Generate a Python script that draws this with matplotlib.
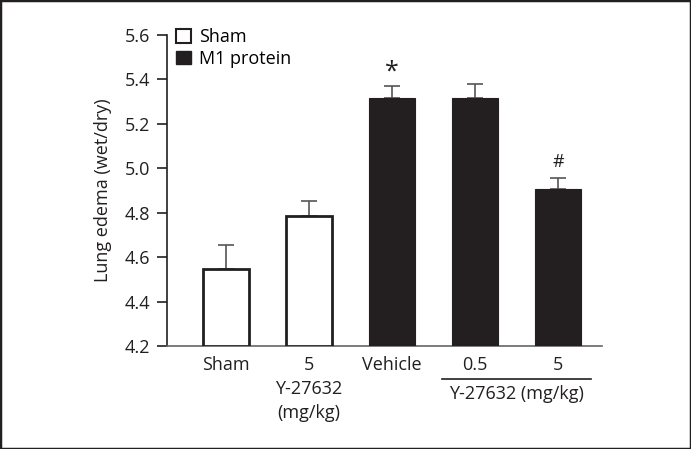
import matplotlib
matplotlib.use("Agg")
import matplotlib.pyplot as plt
from matplotlib.patches import Patch, Rectangle
import numpy as np

plt.rcParams['font.family'] = ['Open Sans', 'DejaVu Sans']

labels = ["Sham", "5\nY-27632\n(mg/kg)", "Vehicle", "0.5", "5"]
values = [4.547, 4.785, 5.316, 5.316, 4.907]
errors = [0.108, 0.070, 0.056, 0.064, 0.048]
groups = ["sham", "sham", "m1", "m1", "m1"]
marks = {2: "*", 4: "#"}

colors = {"sham": "white", "m1": "#231f20"}
fs = 13

fig = plt.figure(figsize=(6.91, 4.49), dpi=100)
ax = fig.add_axes([0.2417, 0.2294, 0.871 - 0.2417, 0.922 - 0.2294])

x = np.arange(len(values))
for i in x:
    g = groups[i]
    lw = 2.0 if g == "sham" else 0.8
    ax.bar(x[i], values[i] - 4.2, bottom=4.2, width=0.55,
           color=colors[g], edgecolor="#231f20", linewidth=lw, zorder=3)
    ax.errorbar(x[i], values[i], yerr=[[0], [errors[i]]], fmt="none",
                ecolor="#555555", elinewidth=1.2, capsize=6, capthick=1.2, zorder=2)
    if i in marks:
        star = marks[i] == "*"
        ax.text(x[i], values[i] + errors[i] + (0.005 if star else 0.035), marks[i],
                ha="center", va="bottom", fontsize=18 if star else 13, color="#231f20")

ax.set_ylim(4.2, 5.6)
ax.set_xlim(-0.71, 4.53)
ax.set_yticks([4.2, 4.4, 4.6, 4.8, 5.0, 5.2, 5.4, 5.6])
ax.set_yticklabels(["4.2", "4.4", "4.6", "4.8", "5.0", "5.2", "5.4", "5.6"])
ax.set_xticks(x)
ax.set_xticklabels(labels, linespacing=1.45)
ax.tick_params(axis="x", length=0, pad=7, labelsize=fs, colors="#231f20")
ax.tick_params(axis="y", length=7, width=1.2, pad=5, labelsize=fs, colors="#231f20")
for s in ["top", "right"]:
    ax.spines[s].set_visible(False)
ax.spines["left"].set_linewidth(1.2)
ax.spines["left"].set_color("#231f20")
ax.spines["bottom"].set_linewidth(1.2)
ax.spines["bottom"].set_color("#666666")

ax.set_ylabel("Lung edema (wet/dry)", fontsize=fs, color="#231f20", labelpad=9)

# group bracket under the last two bars
ax.plot([2.6, 4.4], [4.2 - 0.148, 4.2 - 0.148], color="#231f20", lw=1.2, clip_on=False)
ax.text(3.5, 4.2 - 0.175, "Y-27632 (mg/kg)", ha="center", va="top",
        fontsize=fs, color="#231f20")

handles = [Patch(facecolor="white", edgecolor="#231f20", linewidth=1.5, label="Sham"),
           Patch(facecolor="#231f20", edgecolor="#231f20", label="M1 protein")]
ax.legend(handles=handles, loc="upper left", bbox_to_anchor=(0.005, 1.045), frameon=False,
          handlelength=0.8, handleheight=0.8, handletextpad=0.45, labelspacing=0.2,
          fontsize=fs, borderaxespad=0)

fig.patches.append(Rectangle((0, 0), 1, 1, transform=fig.transFigure, fill=False,
                             edgecolor="#231f20", linewidth=2.5))

fig.savefig("out.png", dpi=100)
